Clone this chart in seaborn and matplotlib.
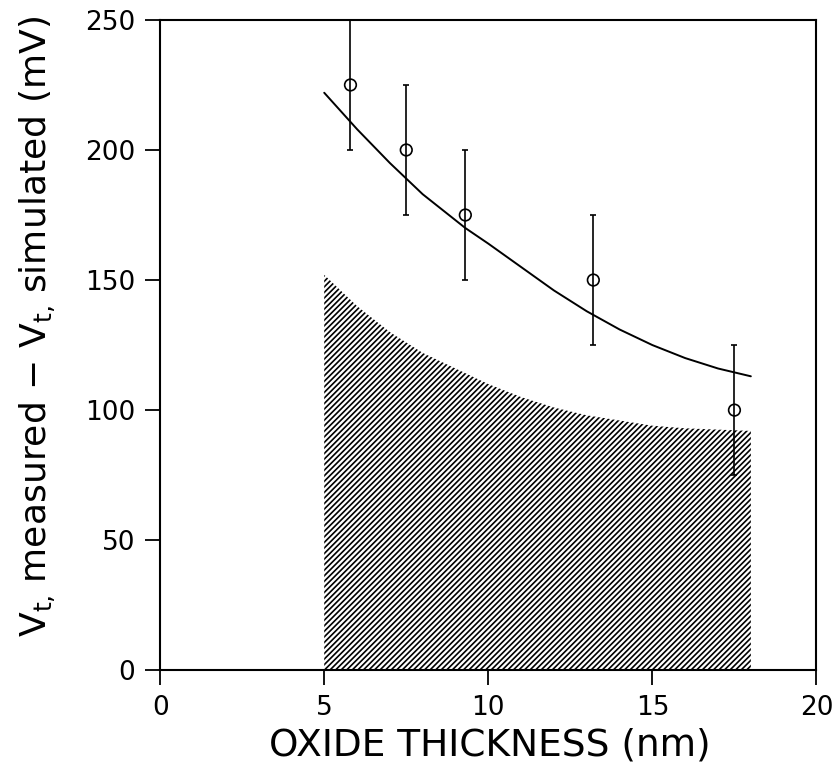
import matplotlib
matplotlib.use("Agg")
import matplotlib.pyplot as plt
import seaborn as sns
import numpy as np
import pandas as pd

# measured points
meas_x = [5.8, 7.5, 9.3, 13.2, 17.5]
meas_y = [225, 200, 175, 150, 100]
meas_err = [25, 25, 25, 25, 25]

# fitted curve
fit_x = [5, 6, 7, 7.5, 8, 9, 9.3, 10, 11, 12, 13, 14, 15, 16, 17, 18]
fit_y = [222, 208, 195, 189, 183, 173, 170, 164, 155, 146, 138, 131, 125, 120, 116, 113]

# hatched band upper boundary
band_x = [5, 6, 7, 8, 9, 10, 11, 12, 13, 14, 15, 16, 17, 18]
band_y = [152, 140, 130, 122, 116, 110, 105, 101, 98, 96, 94, 93, 92.5, 92]

x_ticks = [0, 5, 10, 15, 20]
y_ticks = [0, 50, 100, 150, 200, 250]

sns.set_theme(style="ticks")
plt.rcParams['font.family'] = ['DejaVu Sans']
plt.rcParams['hatch.linewidth'] = 1.2
plt.rcParams['hatch.color'] = 'black'

fig = plt.figure(figsize=(8.34, 7.66), dpi=100)
ax = fig.add_axes([0.192, 0.125, 0.787, 0.849])

ax.fill_between(band_x, 0, band_y, facecolor='white', edgecolor='black',
                hatch='//////', linewidth=0)

df_fit = pd.DataFrame({'x': fit_x, 'y': fit_y})
sns.lineplot(data=df_fit, x='x', y='y', ax=ax, color='black', linewidth=1.4)

ax.errorbar(meas_x, meas_y, yerr=meas_err, fmt='none', ecolor='black',
            elinewidth=1.2, capsize=2, capthick=1.2)
df_m = pd.DataFrame({'x': meas_x, 'y': meas_y})
sns.scatterplot(data=df_m, x='x', y='y', ax=ax, marker='o', s=70,
                facecolor='none', edgecolor='black', linewidth=1.2, zorder=5)

ax.set_xlim(0, 20)
ax.set_ylim(0, 250)
ax.set_xticks(x_ticks)
ax.set_yticks(y_ticks)
ax.tick_params(direction='out', length=11, width=1.3, labelsize=19,
               colors='black', pad=7)
for s in ax.spines.values():
    s.set_linewidth(1.5)
    s.set_color('black')

ax.set_xlabel('OXIDE THICKNESS (nm)', fontsize=27, color='black')
ax.set_ylabel(r'V$_\mathregular{t,}\,$measured $-$ V$_\mathregular{t,}\,$simulated (mV)',
              fontsize=26, color='black')
ax.xaxis.label.set_va('center')
ax.yaxis.label.set_va('center')
ax.xaxis.set_label_coords(0.503, -0.115)
ax.yaxis.set_label_coords(-0.186, 0.528)

fig.savefig('out.png', dpi=100)
